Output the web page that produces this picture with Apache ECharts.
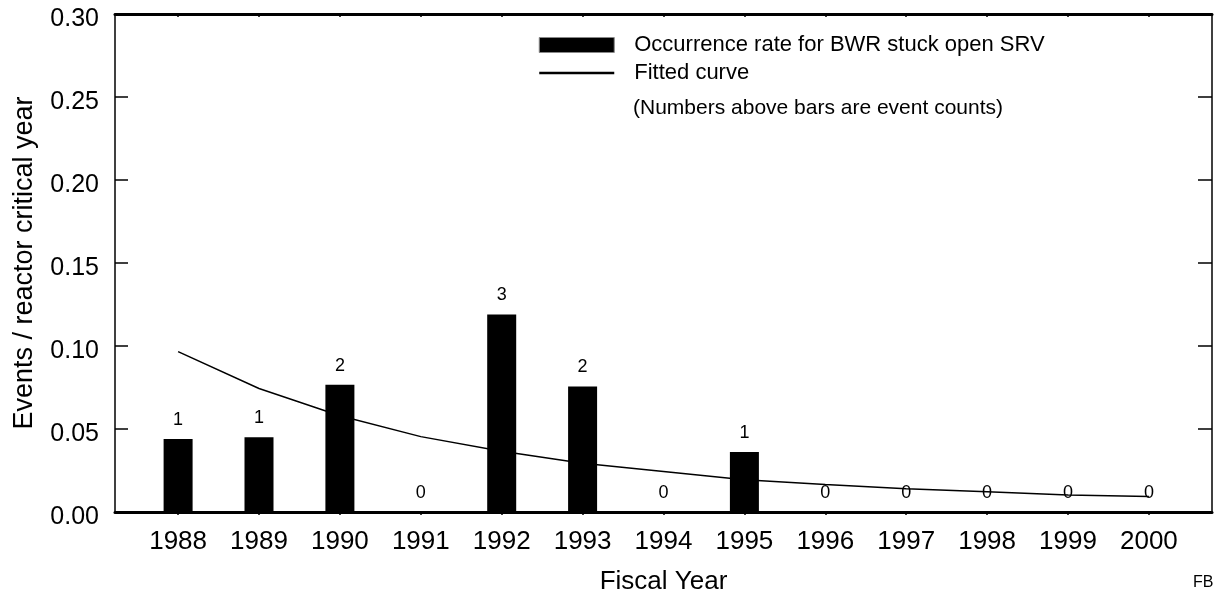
<!DOCTYPE html>
<html>
<head>
<meta charset="utf-8">
<script src="https://cdn.jsdelivr.net/npm/echarts@6/dist/echarts.min.js"></script>
<style>html,body{margin:0;padding:0;background:#fff;}#c{width:1214px;height:600px;}</style>
</head>
<body>
<div id="c"></div>
<script>
var years = [1988, 1989, 1990, 1991, 1992, 1993, 1994, 1995, 1996, 1997, 1998, 1999, 2000];
var rates = [0.0440, 0.0450, 0.0766, 0, 0.1190, 0.0756, 0, 0.0362, 0, 0, 0, 0, 0];
var counts = [1, 1, 2, 0, 3, 2, 0, 1, 0, 0, 0, 0, 0];
var fitted = [0.0966, 0.0744, 0.0580, 0.0454, 0.0366, 0.0294, 0.0244, 0.0195, 0.0165, 0.0140, 0.0122, 0.0103, 0.0093];

var FONT = 'Liberation Sans, Arial, Helvetica, sans-serif';
var chart = echarts.init(document.getElementById('c'));

chart.setOption({
  backgroundColor: '#fff',
  animation: false,
  textStyle: { fontFamily: FONT, color: '#000' },
  title: [
    { text: '(Numbers above bars are event counts)', left: 633, top: 98, padding: 0,
      textStyle: { fontFamily: FONT, fontSize: 21, fontWeight: 'normal', color: '#000' } },
    { text: 'FB', left: 1193, top: 575, padding: 0,
      textStyle: { fontFamily: FONT, fontSize: 16, fontWeight: 'normal', color: '#000' } }
  ],
  legend: {
    orient: 'vertical',
    left: 538,
    top: 34,
    padding: 0,
    itemWidth: 75,
    itemHeight: 15,
    itemGap: 6,
    textStyle: { fontFamily: FONT, fontSize: 22, lineHeight: 22, color: '#000', padding: [0, 0, 0, 15] },
    data: [
      { name: 'Occurrence rate for BWR stuck open SRV', icon: 'rect',
        itemStyle: { color: '#000', borderColor: '#888', borderWidth: 1 } },
      { name: 'Fitted curve', lineStyle: { width: 2.5, color: '#000' },
        itemStyle: { opacity: 0, color: '#000' } }
    ]
  },
  grid: { left: 115, top: 14, width: 1097, height: 500, containLabel: false },
  xAxis: [
    {
      type: 'value', min: 1987.22, max: 2000.78, position: 'bottom',
      name: 'Fiscal Year', nameLocation: 'middle', nameGap: 57,
      nameTextStyle: { fontFamily: FONT, fontSize: 26, color: '#000' },
      axisLine: { show: true, onZero: false, lineStyle: { color: '#000', width: 3 } },
      axisTick: { show: true, inside: false, length: 3, customValues: years, lineStyle: { color: '#000', width: 1.5 } },
      axisLabel: { show: true, customValues: years, margin: 17, fontFamily: FONT, fontSize: 26, color: '#000',
        formatter: function (v) { return String(Math.round(v)); } },
      splitLine: { show: false }
    },
    {
      type: 'value', min: 1987.22, max: 2000.78, position: 'top',
      axisLine: { show: true, onZero: false, lineStyle: { color: '#000', width: 3 } },
      axisTick: { show: true, inside: true, length: 3, customValues: years, lineStyle: { color: '#000', width: 1.5 } },
      axisLabel: { show: false },
      splitLine: { show: false }
    }
  ],
  yAxis: [
    {
      type: 'value', min: 0, max: 0.30, interval: 0.05, position: 'left',
      name: 'Events / reactor critical year', nameLocation: 'middle', nameGap: 77,
      nameTextStyle: { fontFamily: FONT, fontSize: 27, color: '#000' },
      axisLine: { show: true, onZero: false, lineStyle: { color: '#000', width: 1.5 } },
      axisTick: { show: true, inside: true, length: 13, lineStyle: { color: '#000', width: 1.5 } },
      axisLabel: { margin: 16, color: '#000',
        formatter: function (v) { return '{a|' + v.toFixed(2) + '}'; },
        rich: { a: { fontFamily: FONT, fontSize: 25, color: '#000', padding: [10, 0, 0, 0] } } },
      splitLine: { show: false }
    },
    {
      type: 'value', min: 0, max: 0.30, interval: 0.05, position: 'right',
      axisLine: { show: true, onZero: false, lineStyle: { color: '#000', width: 1.5 } },
      axisTick: { show: true, inside: true, length: 14, lineStyle: { color: '#000', width: 1.5 } },
      axisLabel: { show: false },
      splitLine: { show: false }
    }
  ],
  series: [
    {
      name: 'Occurrence rate for BWR stuck open SRV',
      type: 'bar',
      xAxisIndex: 0, yAxisIndex: 0,
      barWidth: 29,
      itemStyle: { color: '#000' },
      data: years.map(function (y, i) { return [y, rates[i]]; }),
      label: {
        show: true, position: 'top', distance: 10,
        fontFamily: FONT, fontSize: 18, color: '#000',
        formatter: function (p) { return String(counts[p.dataIndex]); }
      },
      z: 2
    },
    {
      name: 'Fitted curve',
      type: 'line',
      xAxisIndex: 0, yAxisIndex: 0,
      symbol: 'none',
      itemStyle: { color: '#000' },
      lineStyle: { color: '#000', width: 1.5 },
      data: years.map(function (y, i) { return [y, fitted[i]]; }),
      z: 3
    }
  ]
});
</script>
</body>
</html>
